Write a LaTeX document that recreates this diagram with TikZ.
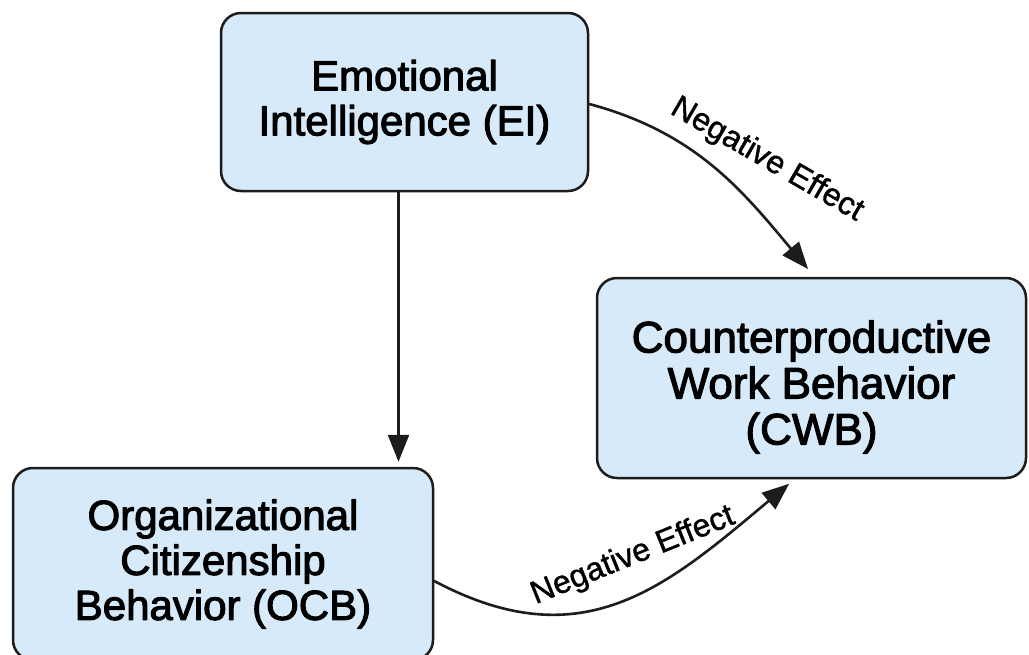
\documentclass[tikz,border=0pt]{standalone}
\usepackage{fontspec}
\setmainfont{Liberation Sans}
\newfontfamily\boxfont{Liberation Sans}[FakeBold=2.6]
\newfontfamily\labfont{Liberation Sans}[FakeBold=1.2]
\usetikzlibrary{arrows.meta}
\definecolor{boxfill}{RGB}{214,234,250}
\definecolor{boxline}{RGB}{28,28,28}

\tikzset{
  construct/.style={draw=boxline,fill=boxfill,line width=2.5pt,rounded corners=20pt,
    align=center,inner sep=0pt,font=\boxfont\fontsize{42}{45}\selectfont},
  effect/.style={draw=boxline,line width=2.6pt,-{Triangle[length=27pt,width=21pt]}},
  efflabel/.style={inner sep=0pt,font=\labfont\fontsize{32}{34}\selectfont},
}

\begin{document}
\begin{tikzpicture}[x=1pt,y=-1pt,line cap=round,line join=round]
  \useasboundingbox (0,0) rectangle (1029,654);
  \clip (0,0) rectangle (1029,654);

  % the three constructs
  \node[construct,minimum width=367pt,minimum height=178pt] (ei) at (404.5,102)
    {Emotional\\Intelligence (EI)};
  \node[construct,minimum width=429pt,minimum height=200pt,font=\boxfont\fontsize{44}{46}\selectfont]
    (cwb) at (811.5,378) {\rule{0pt}{50pt}Counterproductive\\Work Behavior\\(CWB)};
  \node[construct,minimum width=420pt,minimum height=192pt] (ocb) at (223,564)
    {Organizational\\Citizenship\\Behavior (OCB)};

  % paths
  \draw[effect,shorten >=5pt] ([xshift=-6pt]ei.south) -- ([xshift=-6pt]ei.south |- ocb.north);
  \draw[effect,shorten >=10pt] ([yshift=-2pt]ei.east) to[out=-15,in=130] ([xshift=3pt]cwb.north);
  \draw[effect,shorten >=7pt] ([yshift=-17pt]ocb.east) to[out=-28,in=-140,looseness=1.15] ([xshift=-17pt]cwb.south);

  \node[efflabel,rotate=-30] (neg1) at (767,160) {Negative Effect};
  \node[efflabel,rotate=22] (neg2) at (633,556) {Negative Effect};
\end{tikzpicture}
\end{document}
